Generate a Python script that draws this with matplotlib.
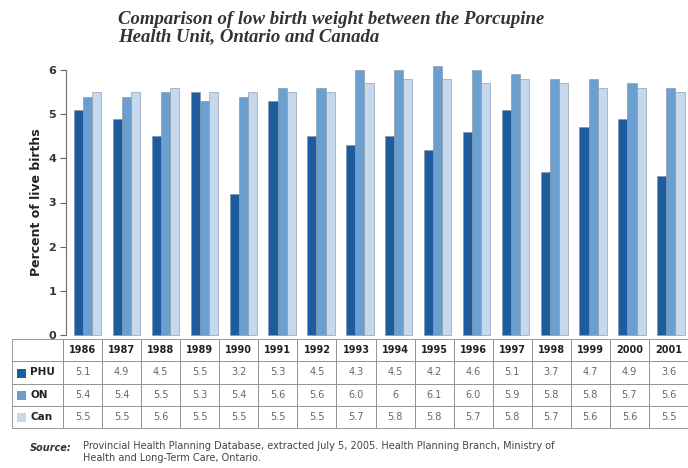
import numpy as np
import matplotlib
matplotlib.use("Agg")
import matplotlib.pyplot as plt
from matplotlib.patches import Rectangle

years = ['1986', '1987', '1988', '1989', '1990', '1991', '1992', '1993',
         '1994', '1995', '1996', '1997', '1998', '1999', '2000', '2001']
phu = [5.1, 4.9, 4.5, 5.5, 3.2, 5.3, 4.5, 4.3, 4.5, 4.2, 4.6, 5.1, 3.7, 4.7, 4.9, 3.6]
on = [5.4, 5.4, 5.5, 5.3, 5.4, 5.6, 5.6, 6.0, 6.0, 6.1, 6.0, 5.9, 5.8, 5.8, 5.7, 5.6]
can = [5.5, 5.5, 5.6, 5.5, 5.5, 5.5, 5.5, 5.7, 5.8, 5.8, 5.7, 5.8, 5.7, 5.6, 5.6, 5.5]
series_names = ['PHU', 'ON', 'Can']
colors = ['#1d5c9e', '#6a9fcf', '#c6d9ec']

narrow = ['Liberation Sans Narrow', 'DejaVu Sans']

fig = plt.figure(figsize=(6.88, 4.68), dpi=100)
ax = fig.add_axes([66 / 688, 1 - 335 / 468, 622 / 688, 265 / 468])

x = np.arange(len(years))
w = 0.235
for i, (vals, c) in enumerate(zip([phu, on, can], colors)):
    ax.bar(x + (i - 1) * w + 0.06, vals, width=w, color=c, edgecolor='#7d8fa3',
           linewidth=0.4, clip_on=False, zorder=2)

ax.set_xlim(-0.5, len(years) - 0.5)
ax.set_ylim(0, 6)
ax.set_xticks([])
ax.set_yticks(range(7))
ax.tick_params(axis='y', length=4, width=0.8, color='#666666', labelsize=8, pad=3)
for lab in ax.get_yticklabels():
    lab.set_fontweight('bold')
    lab.set_color('#333333')
for s in ['top', 'right', 'bottom']:
    ax.spines[s].set_visible(False)
ax.spines['left'].set_color('#777777')
ax.spines['left'].set_linewidth(0.9)
ax.set_ylabel('Percent of live births', fontsize=9, fontweight='bold',
              color='#222222', labelpad=4, family=narrow)

# data table under the bars
txt = [[f'{v:.1f}' for v in phu], [f'{v:.1f}' for v in on], [f'{v:.1f}' for v in can]]
txt[1][8] = '6'
cells = [[''] + years] + [[n] + row for n, row in zip(series_names, txt)]
col_w = [51] + [39] * len(years)
tbl = ax.table(cellText=cells, colWidths=[c / sum(col_w) for c in col_w],
               cellLoc='center', bbox=[-54 / 622, -93 / 265, 676 / 622, 89 / 265])
tbl.auto_set_font_size(False)
for (r, c), cell in tbl.get_celld().items():
    cell.set_edgecolor('#8a8a8a')
    cell.set_linewidth(0.6)
    t = cell.get_text()
    t.set_fontsize(7)
    t.set_family(narrow)
    t.set_color('#666666')
    if r == 0:
        t.set_fontweight('bold')
        t.set_color('#222222')
    if c == 0 and r > 0:
        cell._loc = 'left'
        cell.PAD = 0.36
        t.set_ha('left')
        t.set_fontsize(7.5)
        t.set_fontweight('bold')
        t.set_color('#222222')

# colour keys in the row label cells
for i, c in enumerate(colors):
    yc = 1 - (373 + 22 * i) / 468
    fig.patches.append(Rectangle((17 / 688, yc - 4.5 / 468), 9 / 688, 9 / 468,
                                 transform=fig.transFigure, facecolor=c,
                                 edgecolor='none', figure=fig))

fig.text(118 / 688, 1 - 11 / 468,
         'Comparison of low birth weight between the Porcupine\nHealth Unit, Ontario and Canada',
         fontsize=13.5, fontweight='bold', style='italic', family='Liberation Serif',
         color='#333333', va='top', ha='left', linespacing=1.0)

fig.text(30 / 688, 1 - 448 / 468, 'Source:', fontsize=7, style='italic',
         fontweight='bold', family=narrow, color='#333333', va='center')
fig.text(83 / 688, 1 - 441 / 468,
         'Provincial Health Planning Database, extracted July 5, 2005. Health Planning Branch, Ministry of\n'
         'Health and Long-Term Care, Ontario.',
         fontsize=7, family=narrow, color='#444444', va='top', linespacing=1.3)

fig.savefig('out.png', dpi=100)
